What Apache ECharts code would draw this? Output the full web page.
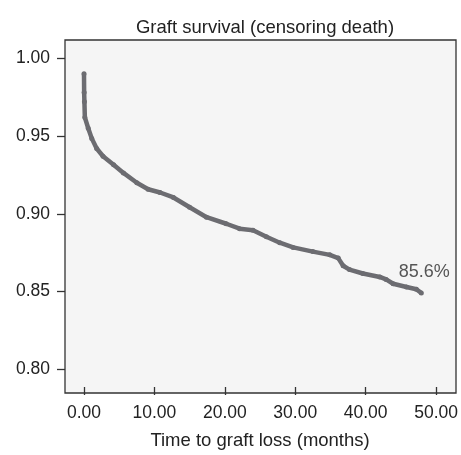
<!DOCTYPE html>
<html>
<head>
<meta charset="utf-8">
<script src="https://cdn.jsdelivr.net/npm/echarts@6/dist/echarts.min.js"></script>
<style>
  html, body { margin: 0; padding: 0; background: #fff; }
  #chart { width: 461px; height: 455px; }
</style>
</head>
<body>
<div id="chart"></div>
<script>
// Kaplan-Meier estimate
const months = [0.00, 0.02, 0.06, 0.12, 0.6, 1.1, 1.8, 2.7, 4.2, 5.6, 7.5, 9.1, 10.8, 12.7,
  15.0, 17.4, 20.2, 22.1, 24.0, 25.9, 27.8, 29.7, 32.5, 34.9, 36.1, 36.8, 37.7, 39.6,
  42.0, 42.9, 43.9, 45.8, 47.2, 47.9]
const survival = [0.990, 0.978, 0.972, 0.962, 0.955, 0.9485, 0.942, 0.937, 0.9316, 0.9263,
  0.920, 0.9158, 0.9137, 0.9105, 0.9042, 0.8978, 0.8936, 0.8904, 0.8894, 0.8852, 0.8814,
  0.8784, 0.8757, 0.8736, 0.8715, 0.8666, 0.8641, 0.8616, 0.8594, 0.8578, 0.855, 0.8529,
  0.8515, 0.849]
const endLabel = '85.6%'

const font = 'Liberation Sans, Arial, sans-serif'
const lineColor = '#6c6c71'
const frameColor = '#333'

const chart = echarts.init(document.getElementById('chart'))

const points = months.map((t, i) => {
  const item = { value: [t, survival[i]] }
  if (i === months.length - 1) {
    item.label = {
      show: true,
      formatter: endLabel,
      position: 'top',
      offset: [3, -5],
      color: '#555',
      fontSize: 18,
      fontFamily: font
    }
  }
  return item
})

chart.setOption({
  animation: false,
  title: {
    text: 'Graft survival (censoring death)',
    left: 260,
    textAlign: 'center',
    top: 13,
    textStyle: { fontSize: 18.5, fontWeight: 'normal', color: '#222', fontFamily: font }
  },
  grid: [
    // frame of the plot
    {
      left: 65, top: 40, right: 5, bottom: 62,
      show: true,
      backgroundColor: '#f5f5f5',
      borderColor: frameColor,
      borderWidth: 1.3
    },
    // data area, 0..50 by 0.80..1.00
    { left: 84, top: 58.3, right: 24.3, bottom: 80 }
  ],
  xAxis: [
    { gridIndex: 0, type: 'value', show: false, min: 0, max: 1 },
    {
      gridIndex: 1,
      type: 'value',
      min: 0,
      max: 50,
      interval: 10,
      offset: 17.7,
      name: 'Time to graft loss (months)',
      nameLocation: 'middle',
      nameGap: 44,
      nameTextStyle: { fontSize: 18.5, color: '#222', fontFamily: font },
      axisLine: { show: false, onZero: false },
      splitLine: { show: false },
      axisTick: { show: true, length: 8, lineStyle: { color: frameColor, width: 1.3 } },
      axisLabel: {
        margin: 17,
        fontSize: 17.5,
        color: '#222',
        fontFamily: font,
        showMinLabel: true,
        showMaxLabel: true,
        formatter: v => v.toFixed(2)
      }
    }
  ],
  yAxis: [
    { gridIndex: 0, type: 'value', show: false, min: 0, max: 1 },
    {
      gridIndex: 1,
      type: 'value',
      min: 0.8,
      max: 1.0,
      interval: 0.05,
      offset: 19,
      axisLine: { show: false, onZero: false },
      splitLine: { show: false },
      axisTick: { show: true, length: 8, lineStyle: { color: frameColor, width: 1.3 } },
      axisLabel: {
        margin: 15,
        fontSize: 17.5,
        color: '#222',
        fontFamily: font,
        showMinLabel: true,
        showMaxLabel: true,
        formatter: v => v.toFixed(2)
      }
    }
  ],
  series: [
    {
      type: 'line',
      xAxisIndex: 1,
      yAxisIndex: 1,
      clip: false,
      data: points,
      showSymbol: true,
      showAllSymbol: true,
      symbol: 'circle',
      symbolSize: 5,
      itemStyle: { color: lineColor },
      lineStyle: { color: lineColor, width: 4.5 }
    }
  ]
})
</script>
</body>
</html>
